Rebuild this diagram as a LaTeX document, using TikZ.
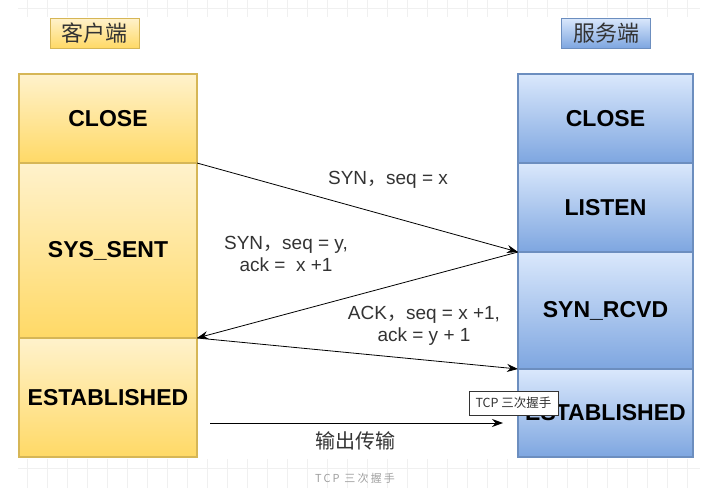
\documentclass[tikz,border=0pt]{standalone}
\usepackage{fontspec}
\setmainfont{Liberation Sans}
\newfontfamily\cjk{Noto Sans CJK SC}
\usetikzlibrary{positioning,arrows.meta}
\definecolor{cliTop}{HTML}{FFF2CC}
\definecolor{cliBot}{HTML}{FFD966}
\definecolor{cliLine}{HTML}{D6B656}
\definecolor{srvTop}{HTML}{DAE8FC}
\definecolor{srvBot}{HTML}{7EA6E0}
\definecolor{srvLine}{HTML}{6C8EBF}
\definecolor{labelText}{HTML}{333333}
\tikzset{
  cli state/.style={draw=cliLine,line width=1.5pt,top color=cliTop,bottom color=cliBot,minimum width=178pt,inner sep=0pt,outer sep=0pt,font=\fontsize{23}{25}\selectfont\bfseries},
  srv state/.style={draw=srvLine,line width=1.5pt,top color=srvTop,bottom color=srvBot,minimum width=175pt,inner sep=0pt,outer sep=0pt,font=\fontsize{23}{25}\selectfont\bfseries},
  head box/.style={line width=1pt,minimum width=89pt,minimum height=30pt,inner sep=0pt,text=labelText,font=\cjk\fontsize{22}{24}\selectfont},
  msg/.style={-{Stealth[length=11pt,width=8pt]},line width=0.8pt},
  msg label/.style={align=center,text=labelText,font=\fontsize{19}{22}\selectfont},
  grid line/.style={draw=gray!12,line width=0.6pt}
}

\begin{document}
\begin{tikzpicture}[x=1pt,y=-1pt]
  \useasboundingbox (0,0) rectangle (707,488);

  % faint grid at the top and bottom edge
  \foreach \x in {27,47,...,687} {
    \draw[grid line] (\x,0) -- (\x,17);
    \draw[grid line] (\x,459) -- (\x,488);
  }
  \draw[grid line] (18,8) -- (700,8);
  \draw[grid line] (18,468) -- (700,468);

  % headers
  \node[head box,draw=cliLine,top color=cliTop,bottom color=cliBot] (client) at (94.5,33) {客户端};
  \node[head box,draw=srvLine,top color=srvTop,bottom color=srvBot] (server) at (606,33) {服务端};

  % client states
  \node[cli state,minimum height=89pt] (c close) at (108,118.5) {CLOSE};
  \node[cli state,minimum height=175pt,below=0pt of c close] (c sent) {SYS\_SENT};
  \node[cli state,minimum height=119pt,below=0pt of c sent] (c est) {ESTABLISHED};

  % server states
  \node[srv state,minimum height=89pt] (s close) at (605.5,118.5) {CLOSE};
  \node[srv state,minimum height=89pt,below=0pt of s close] (s listen) {LISTEN};
  \node[srv state,minimum height=117pt,below=0pt of s listen] (s rcvd) {SYN\_RCVD};
  \node[srv state,minimum height=88pt,below=0pt of s rcvd] (s est) {ESTABLISHED};

  % handshake
  \draw[msg] (c close.south east) -- (s listen.south west);
  \draw[msg] (s listen.south west) -- (c sent.south east);
  \draw[msg] (c sent.south east) -- (s rcvd.south west);
  \coordinate (out start) at (210,423);
  \coordinate (out end) at (503,423);
  \draw[msg] (out start) -- (out end);

  \node[msg label] (syn) at (388,180) {SYN{\cjk ，}seq = x};
  \node[msg label] (syn ack) at (286,254) {SYN{\cjk ，}seq = y,\\ack =\ \ x +1};
  \node[msg label] (ack) at (424,326) {ACK{\cjk ，}seq = x +1,\\ack = y + 1};
  \node[msg label,font=\cjk\fontsize{20}{22}\selectfont] (transfer) at (355,441) {输出传输};

  % tooltip and caption
  \node[draw=black!80,fill=white,line width=0.8pt,minimum width=89pt,minimum height=24pt,inner sep=0pt,text=labelText,font=\cjk\fontsize{12.5}{14}\selectfont] (tip) at (513.5,403) {TCP 三次握手};
  \node[text=gray!75,font=\cjk\fontsize{11}{13}\selectfont\addfontfeature{LetterSpace=20}] (caption) at (355,478) {TCP 三次握手};
\end{tikzpicture}
\end{document}
